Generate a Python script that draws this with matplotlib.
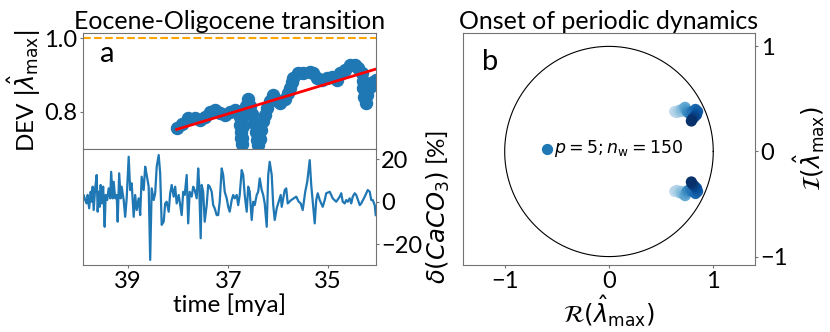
import numpy as np
import matplotlib
matplotlib.use("Agg")
from matplotlib import pyplot as plt

plt.rcParams['font.family'] = ['Lato', 'DejaVu Sans']
plt.rcParams['mathtext.fontset'] = 'dejavusans'

# DEV |lambda_max| in sliding windows (panel a, top)
dev_time = [38.03, 37.93, 37.80, 37.67, 37.57, 37.47, 37.37, 37.27, 37.17, 37.07,
            36.97, 36.87, 36.79, 36.77, 36.76, 36.75, 36.74, 36.73, 36.72, 36.70,
            36.68, 36.64, 36.60, 36.56, 36.52, 36.48, 36.45, 36.43, 36.40, 36.37,
            36.34, 36.30, 36.27, 36.23, 36.17, 36.10, 36.07, 35.97,
            35.87, 35.80, 35.77, 35.73, 35.70, 35.60, 35.50, 35.37, 35.30, 35.23,
            35.13, 35.03, 34.93, 34.83, 34.77, 34.67, 34.57, 34.47, 34.40, 34.33,
            34.31, 34.30, 34.29, 34.25, 34.22, 34.17, 34.10, 34.05]
dev_val = [0.755, 0.768, 0.782, 0.782, 0.777, 0.786, 0.800, 0.805, 0.796, 0.791,
           0.800, 0.805, 0.800, 0.785, 0.765, 0.745, 0.728, 0.713, 0.730, 0.760,
           0.790, 0.815, 0.836, 0.815, 0.795, 0.770, 0.745, 0.722, 0.709, 0.725,
           0.750, 0.775, 0.791, 0.809, 0.830, 0.845, 0.836, 0.823,
           0.836, 0.850, 0.864, 0.880, 0.891, 0.905, 0.905, 0.909, 0.905, 0.891,
           0.886, 0.891, 0.895, 0.886, 0.905, 0.914, 0.927, 0.927, 0.918, 0.905,
           0.884, 0.864, 0.841, 0.823, 0.845, 0.868, 0.882, 0.886]

# linear trend of DEV
trend_time = [38.03, 34.05]
trend_val = [0.752, 0.916]

# CaCO3 anomaly record (panel a, bottom)
caco3_time = [39.93, 39.89, 39.86, 39.83, 39.81, 39.78, 39.75, 39.73, 39.71, 39.69,
              39.66, 39.63, 39.61, 39.59, 39.57, 39.55, 39.53, 39.50, 39.47, 39.45,
              39.42, 39.39, 39.36, 39.34, 39.31, 39.29, 39.26, 39.23, 39.21, 39.18,
              39.15, 39.13, 39.09, 39.06, 39.03, 38.99, 38.96, 38.93, 38.89, 38.86,
              38.83, 38.79, 38.76, 38.73, 38.69, 38.66, 38.63, 38.59, 38.56, 38.53,
              38.49, 38.46, 38.43, 38.39, 38.36, 38.33, 38.29, 38.26, 38.23, 38.19,
              38.16, 38.13, 38.09, 38.06, 38.03, 37.99, 37.96, 37.93,
              37.90, 37.87, 37.83, 37.80, 37.77, 37.73, 37.70, 37.67, 37.63, 37.60,
              37.58, 37.55, 37.53, 37.50, 37.47, 37.43, 37.40, 37.37, 37.33, 37.30,
              37.27, 37.23, 37.20, 37.17, 37.13, 37.10, 37.07, 37.03, 37.00, 36.97,
              36.93, 36.90, 36.87, 36.83, 36.80, 36.77, 36.73, 36.70, 36.67, 36.63,
              36.60, 36.57, 36.53, 36.50, 36.47, 36.43, 36.40, 36.37, 36.33, 36.30,
              36.27, 36.23, 36.20, 36.17, 36.13, 36.10, 36.07, 36.03, 36.00,
              35.95, 35.93, 35.87, 35.84, 35.81, 35.74, 35.64, 35.59, 35.55, 35.51,
              35.46, 35.42, 35.37, 35.34, 35.31, 35.27, 35.24, 35.21, 35.17, 35.14,
              35.11, 35.07, 35.04, 34.97, 34.91, 34.84, 34.77, 34.74, 34.71, 34.67,
              34.64, 34.61, 34.57, 34.54, 34.51, 34.47, 34.44, 34.37, 34.34, 34.27,
              34.21, 34.17, 34.14, 34.11, 34.07, 34.05]
caco3_val = [-3.1, 3.2, 0.8, -0.8, 3.2, -3.1, 4.7, 0.0, 7.1, -3.9,
             6.3, 12.6, -4.7, 4.7, -2.4, 7.9, -0.8, 7.1, -11.8, 3.2,
             0.8, 6.3, 1.6, 14.1, 1.6, 9.4, 1.6, 3.2, -9.4, 13.4,
             1.6, 7.1, 0.8, -7.1, 1.6, 21.2, 5.5, 8.7, -7.1, 3.2,
             -3.9, 1.6, -6.3, 11.8, 5.5, 16.5, 12.6, 7.1, -27.4, 6.3,
             0.8, 4.0, 16.5, 22.0, 13.4, -10.9, -9.4, -0.8, 0.0, -4.7,
             4.0, 7.9, 2.4, 7.1, -0.8, 3.2, -1.6, -6.3,
             4.7, 3.2, 12.6, -10.2, 4.7, 2.4, 7.1, 5.5, 1.6, 15.7,
             7.9, -17.2, 7.9, 4.7, -9.4, -1.6, 7.9, 7.1, 4.7, -1.6,
             -3.1, -6.3, -6.3, 0.0, 15.7, 12.6, 4.7, 1.6, -2.4, -4.7,
             0.8, 3.2, 1.6, 3.2, -1.6, 3.2, 14.9, 12.6, 3.2, -4.7,
             7.1, 4.7, -8.6, 0.0, -1.6, 3.2, 4.7, 11.0, 5.5, 3.2,
             -0.8, -11.8, 12.6, 18.8, 12.6, -1.6, -8.6, -3.1, -0.8,
             3.2, -2.4, 5.5, 6.3, -0.8, 0.8, 2.4, 0.0, -0.8, -3.9,
             4.7, 9.4, 19.6, 7.9, 0.0, -10.2, 0.8, 4.0, 0.8, -0.8,
             -2.4, 0.8, 4.0, 4.7, 1.6, 0.0, 2.4, 4.0, 0.0, -0.8,
             0.8, 0.0, 1.6, -0.8, 2.4, 4.0, 3.2, -1.6, -0.8, 2.4,
             5.5, 4.7, 0.8, 0.8, -1.6, -6.3]

# leading eigenvalues (panel b), upper half-plane, ordered in time
eig_re = [0.63, 0.65, 0.67, 0.69, 0.70, 0.72, 0.73, 0.74, 0.75, 0.76,
          0.78, 0.80, 0.83, 0.85, 0.84, 0.82, 0.80, 0.79]
eig_im = [0.38, 0.37, 0.39, 0.38, 0.40, 0.41, 0.42, 0.40, 0.38, 0.37,
          0.36, 0.38, 0.40, 0.38, 0.35, 0.33, 0.31, 0.29]

fig = plt.figure(figsize=(8.3, 3.32), dpi=100)
ax1 = fig.add_axes([0.0996, 0.5503, 0.3531, 0.3512])
ax2 = fig.add_axes([0.0996, 0.2018, 0.3531, 0.3485])
ax3 = fig.add_axes([0.5578, 0.2018, 0.3518, 0.6997])

spine_col = '0.45'
for ax in (ax1, ax2, ax3):
    for s in ax.spines.values():
        s.set_color(spine_col)
    ax.tick_params(labelsize=17, color=spine_col, length=2.5, pad=1.5)

# top: DEV
ax1.scatter(dev_time, dev_val, s=75, color='C0', zorder=2)
ax1.plot(trend_time, trend_val, color='red', lw=2, zorder=3)
ax1.axhline(1.0, color='orange', ls='--', lw=1.5)
ax1.set_xlim(39.91, 34.05)
ax1.set_ylim(0.698, 1.015)
ax1.set_yticks([0.8, 1.0])
ax1.set_xticks([])
ax1.set_ylabel(r'DEV $|\hat{\lambda}_\mathrm{max}|$', fontsize=17.5, labelpad=1)
ax1.set_title('Eocene-Oligocene transition', fontsize=18, pad=3)
ax1.text(0.06, 0.93, 'a', transform=ax1.transAxes, fontsize=21, va='top')

# bottom: CaCO3
ax2.plot(caco3_time, caco3_val, color='C0', lw=1.6)
ax2.set_xlim(39.91, 34.05)
ax2.set_ylim(-29.8, 24.7)
ax2.set_xticks([39, 37, 35])
ax2.set_yticks([-20, 0, 20])
ax2.yaxis.tick_right()
ax2.yaxis.set_label_position('right')
ax2.set_ylabel(r'$\delta(CaCO_3)$ [%]', fontsize=17.5, labelpad=2)
ax2.set_xlabel('time [mya]', fontsize=17.5, labelpad=1)

# right: eigenvalues in the complex plane
theta = np.linspace(0, 2 * np.pi, 400)
ax3.plot(np.cos(theta), np.sin(theta), color='k', lw=0.8)
cval = np.arange(len(eig_re))
ax3.scatter(eig_re, eig_im, c=cval, cmap='Blues', vmin=-6, vmax=len(eig_re) - 1, s=50, zorder=3)
ax3.scatter(eig_re, -np.array(eig_im), c=cval, cmap='Blues', vmin=-6, vmax=len(eig_re) - 1, s=50, zorder=3)
ax3.scatter([], [], color='C0', s=50, label=r'$p=5; n_\mathrm{w}=150$')
ax3.legend(loc='center left', bbox_to_anchor=(0.215, 0.5), frameon=False, fontsize=12.5,
           handlelength=0.6, handletextpad=0.1)
ax3.set_xlim(-1.4, 1.4)
ax3.set_ylim(-1.08, 1.13)
ax3.set_xticks([-1, 0, 1])
ax3.set_yticks([-1, 0, 1])
ax3.yaxis.tick_right()
ax3.yaxis.set_label_position('right')
ax3.set_xlabel(r'$\mathcal{R}(\hat{\lambda}_\mathrm{max})$', fontsize=17.5, labelpad=1)
ax3.set_ylabel(r'$\mathcal{I}(\hat{\lambda}_\mathrm{max})$', fontsize=17.5, labelpad=2)
ax3.set_title('Onset of periodic dynamics', fontsize=18, pad=3)
ax3.text(0.065, 0.93, 'b', transform=ax3.transAxes, fontsize=21, va='top')

fig.savefig('out.png', dpi=100)
